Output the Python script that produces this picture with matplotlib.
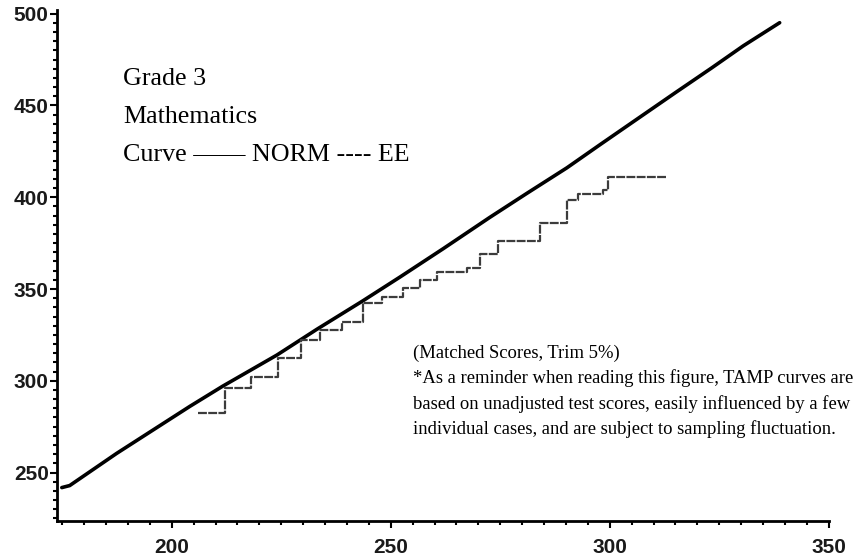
import matplotlib.pyplot as plt
from matplotlib.ticker import MultipleLocator

# NORM equating curve (reference form -> new form scale)
norm_x = [174.9, 176.7, 187.4, 204.1, 211.6, 224.0, 233.1, 243.6, 252.1,
          262.0, 272.6, 281.0, 290.2, 298.0, 306.8, 315.0, 323.3, 330.5,
          338.8]
norm_y = [241.8, 242.9, 260.4, 286.0, 297.0, 314.0, 328.0, 343.5, 356.5,
          372.0, 389.0, 402.0, 416.0, 429.0, 443.5, 457.0, 470.5, 482.5,
          495.1]

# EE curve, step function (value holds until the next x)
ee_x = [205.9, 212.1, 218.0, 224.2, 229.5, 233.8, 238.8, 243.6, 247.9,
        252.7, 256.6, 260.5, 267.4, 270.3, 274.4, 284.0, 290.2, 292.7,
        298.4, 299.5, 313.0]
ee_y = [282.2, 296.1, 301.9, 312.5, 322.1, 327.5, 331.9, 342.2, 345.5,
        350.5, 354.8, 359.2, 361.4, 369.0, 376.3, 386.0, 398.5, 402.0,
        403.9, 410.8, 410.8]

x_ticks = [200, 250, 300, 350]
y_ticks = [250, 300, 350, 400, 450, 500]

title_lines = ["Grade 3", "Mathematics", "Curve \u2014\u2014 NORM ---- EE"]
note_lines = [
    "(Matched Scores, Trim 5%)",
    "*As a reminder when reading this figure, TAMP curves are",
    "based on unadjusted test scores, easily influenced by a few",
    "individual cases, and are subject to sampling fluctuation.",
]

fig = plt.figure(figsize=(8.57, 5.58), dpi=100)
ax = fig.add_axes([0.0665, 0.066, 0.9005, 0.916])

ax.plot(norm_x, norm_y, color='black', lw=2.6, solid_capstyle='round',
        solid_joinstyle='round')
ax.plot(ee_x, ee_y, color='#3c3c3c', lw=1.6, drawstyle='steps-post',
        linestyle=(0, (4, 0.6)))

ax.set_xlim(173.8, 350)
ax.set_ylim(223.5, 502)
ax.set_xticks(x_ticks)
ax.set_yticks(y_ticks)
ax.xaxis.set_minor_locator(MultipleLocator(5))
ax.yaxis.set_minor_locator(MultipleLocator(5))

for side in ('top', 'right'):
    ax.spines[side].set_visible(False)
for side in ('left', 'bottom'):
    ax.spines[side].set_linewidth(2)

ax.tick_params(which='major', direction='out', length=5, width=1.5,
               labelsize=15, labelcolor='#1a1a1a')
ax.tick_params(which='minor', direction='out', length=3, width=1.5)
ax.tick_params(axis='x', which='major', pad=7)
ax.tick_params(axis='y', which='major', pad=1)
for lbl in ax.get_xticklabels() + ax.get_yticklabels():
    lbl.set_family('Liberation Sans')
    lbl.set_weight('bold')

serif = 'Liberation Serif'
for i, line in enumerate(title_lines):
    fig.text(123 / 857, 1 - (79 + 38 * i) / 558, line, family=serif,
             fontsize=18.7, va='center', ha='left')
for i, line in enumerate(note_lines):
    fig.text(413 / 857, 1 - (353 + 25.3 * i) / 558, line, family=serif,
             fontsize=13.4, va='center', ha='left')

fig.savefig('out.png', dpi=100)
